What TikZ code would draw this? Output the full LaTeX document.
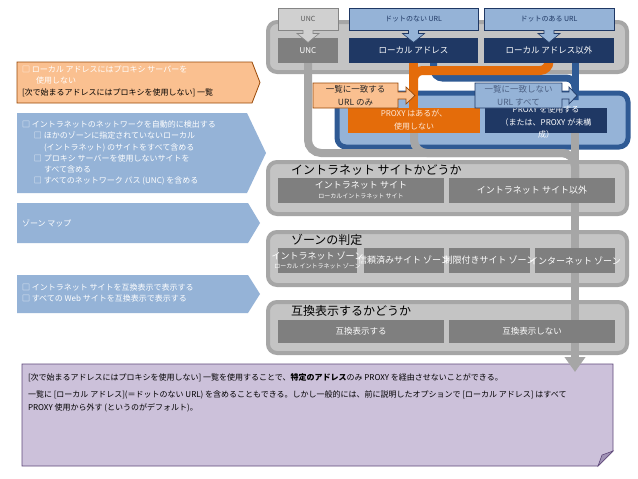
\documentclass[tikz,border=0pt]{standalone}
\usepackage{fontspec}
\setmainfont{Noto Sans CJK JP}
\usetikzlibrary{arrows.meta,calc}
\definecolor{cband}{HTML}{A6A6A6}
\definecolor{cfill}{HTML}{C4C4C4}
\definecolor{cdark}{HTML}{7F7F7F}
\definecolor{cnavy}{HTML}{1F3864}
\definecolor{cbline}{HTML}{2F5A94}
\definecolor{clblue}{HTML}{95B3D7}
\definecolor{corange}{HTML}{E46C0A}
\definecolor{clorange}{HTML}{FAC090}
\definecolor{cbrown}{HTML}{984807}
\definecolor{cpurple}{HTML}{CCC1DA}
\definecolor{cpurpleb}{HTML}{5F497A}
\definecolor{cpurpled}{HTML}{A193B6}
\definecolor{cunc}{HTML}{D0D0D0}
\definecolor{ctxtdark}{HTML}{262626}
\definecolor{corangetxt}{HTML}{FDE9D9}
\newcommand\fsz[2]{\fontsize{#1}{#2}\selectfont}
\pgfdeclarelayer{back}
\pgfdeclarelayer{flows}
\pgfsetlayers{back,flows,main}
\begin{document}
\begin{tikzpicture}[x=1pt,y=-1pt,
  every node/.style={inner sep=0pt, outer sep=0pt},
  container/.style={draw=cband, fill=cfill, line width=4pt, rounded corners=9pt, minimum width=359pt},
  darkbox/.style={fill=cdark},
  navybox/.style={fill=cnavy, text=white, font=\fsz{8.5}{10}},
  topblue/.style={fill=clblue, draw=cnavy, line width=0.6pt, text=cnavy, font=\fsz{7}{8}, minimum height=22pt},
  topgrey/.style={fill=cunc, draw=cband!80!black, line width=0.6pt, text=black!65, font=\fsz{7}{8}, minimum height=22pt},
  wtxt/.style={text=white, align=center},
  title/.style={anchor=west, font=\fsz{12}{14}, text=black},
  greyflow/.style={draw=cband, line width=8pt},
  blueflow/.style={draw=cbline, line width=7pt},
  orangeflow/.style={draw=corange, line width=9pt},
  calloutO/.style={fill=clorange, draw=cbrown, line width=0.7pt},
  calloutB/.style={fill=clblue, draw=cnavy, line width=0.7pt},
  lefttxt/.style={anchor=north west, align=left, text=white, font=\fsz{8}{11.2}}
]
\useasboundingbox (0,0) rectangle (638,479);
\coordinate (vx) at (575,0);

% ---------- background layer ----------
\begin{pgfonlayer}{back}
\fill[white] (0,0) rectangle (638,479);
\node[container, minimum height=50pt] (ctop) at (447.5,47) {};
\node[container, minimum height=52pt] (cint) at (447.5,188) {};
\node[container, minimum height=53pt] (czone) at (447.5,258.5) {};
\node[container, minimum height=51pt] (ccompat) at (447.5,327.5) {};
\draw[fill=cpurple, draw=cpurpleb, line width=0.8pt] (22,364) -- (613,364) -- (613,451) -- (598,466) -- (22,466) -- cycle;
\filldraw[fill=cpurpled, draw=cpurpleb, line width=0.6pt] (613,451) -- (598,466) -- (602,455) -- cycle;
\node[draw=cbline, fill=clblue, line width=5pt, rounded corners=9pt, minimum width=291pt, minimum height=54pt] (cproxy) at (482.5,120) {};
\end{pgfonlayer}

% ---------- boxes ----------
\node[topgrey, minimum width=60pt] (tunc) at (308,19) {UNC};
\node[topblue, minimum width=129pt] (tnodot) at (413.5,19) {ドットのない URL};
\node[topblue, minimum width=130pt] (tdot) at (549,19) {ドットのある URL};

\node[darkbox, minimum width=60pt, minimum height=25pt, text=white, font=\fsz{8}{10}] (unc) at (308,50.5) {UNC};
\node[navybox, minimum width=129pt, minimum height=25pt] (la) at (413.5,50.5) {ローカル アドレス};
\node[navybox, minimum width=130pt, minimum height=25pt] (lax) at (549,50.5) {ローカル アドレス以外};

\node[fill=corange, minimum width=132pt, minimum height=25pt] (pno) at (414,120.5) {};
\node[text=corangetxt, align=center, font=\fsz{8}{12.5}] (pnot) at (414,120) {PROXY はあるが、\\使用しない};
\node[fill=cnavy, minimum width=122pt, minimum height=25pt] (pyes) at (546,120.5) {};
\node[text=white, align=center, font=\fsz{8}{12.5}] (pyest) at (546,122.5) {PROXY を使用する\\（または、PROXY が未構\\成）};

% container 2
\node[darkbox, minimum width=166pt, minimum height=25pt] (isite) at (361,190.5) {};
\node[wtxt, font=\fsz{9}{10}] (isitet) at (361,185) {イントラネット サイト};
\node[wtxt, font=\fsz{6}{7}] (isitet2) at (361,196.5) {ローカルイントラネット サイト};
\node[darkbox, minimum width=166pt, minimum height=25pt] (nsite) at (532,190.5) {};
\node[wtxt, font=\fsz{9}{10}] (nsitet) at (nsite) {イントラネット サイト以外};

% container 3
\node[darkbox, minimum width=79pt, minimum height=25pt] (z1) at (317.5,260.5) {};
\node[wtxt, font=\fsz{9}{10}] (z1t) at (317.5,255.5) {イントラネット ゾーン};
\node[wtxt, font=\fsz{6}{7}] (z1t2) at (317.5,266.5) {ローカル イントラネット ゾーン};
\node[darkbox, minimum width=80pt, minimum height=25pt] (z2) at (404,260.5) {};
\node[wtxt, font=\fsz{9}{10}] (z2t) at (z2) {信頼済みサイト ゾーン};
\node[darkbox, minimum width=81pt, minimum height=25pt] (z3) at (489.5,260.5) {};
\node[wtxt, font=\fsz{9}{10}] (z3t) at (z3) {制限付きサイト ゾーン};
\node[darkbox, minimum width=80pt, minimum height=25pt] (z4) at (575,260.5) {};
\node[wtxt, font=\fsz{9}{10}] (z4t) at (z4) {インターネット ゾーン};

% container 4
\node[darkbox, minimum width=166pt, minimum height=23pt] (cy) at (361,331.5) {};
\node[wtxt, font=\fsz{8.5}{10}] (cyt) at (cy) {互換表示する};
\node[darkbox, minimum width=166pt, minimum height=23pt] (cn) at (532,331.5) {};
\node[wtxt, font=\fsz{8.5}{10}] (cnt) at (cn) {互換表示しない};

% titles
\node[title] (t2) at (291,170) {イントラネット サイトかどうか};
\node[title] (t3) at (291,239.5) {ゾーンの判定};
\node[title] (t4) at (291,311) {互換表示するかどうか};

% ---------- flows ----------
\begin{pgfonlayer}{flows}
\draw[blueflow, rounded corners=9pt] ($(la.south)+(20,-2)$) |- ($(vx)+(0,78)$) -- ($(vx)+(0,100)$);
\draw[blueflow] ($(lax.south -| vx)+(0,-2)$) -- (vx |- cproxy.north);
\draw[orangeflow] ($(la.south)+(0,-2)$) -- ($(la.south |- pno.north)+(0,2)$);
\draw[orangeflow, rounded corners=9pt] ($(lax.south)+(0,-2)$) |- ($(la.south)+(0,7.5)$) -- ($(la.south)+(0,30)$);
\draw[greyflow, rounded corners=13pt] ($(unc.south)+(0,-2)$) |- ($(vx)+(0,153)$) -- ($(vx)+(0,185)$);
\draw[greyflow, rounded corners=13pt] ($(pno.south)+(0,-2)$) |- ($(vx)+(0,153)$) -- ($(vx)+(0,185)$);
\draw[greyflow, -{Triangle[width=20pt,length=15pt]}] ($(pyes.south -| vx)+(0,-2)$) -- ($(vx)+(0,372)$);
\end{pgfonlayer}

% ---------- small down arrows ----------
\foreach \n/\f/\d in {tunc/cunc/cband!80!black, tnodot/clblue/cnavy, tdot/clblue/cnavy}{
  \fill[\f] ($(\n.south)+(-5,-1)$) -- ++(10,0) -- ++(0,4.5) -- ++(6,0) -- ++(-11,9) -- ++(-11,-9) -- ++(6,0) -- cycle;
  \draw[\d, line width=0.6pt, line join=miter] ($(\n.south)+(5,0)$) -- ++(0,3.5) -- ++(6,0) -- ++(-11,9) -- ++(-11,-9) -- ++(6,0) -- ++(0,-3.5);
}

% ---------- callouts ----------
\draw[calloutO] (313,83) -- (398,83) -- (398,92) -- (406,92) -- (406,87) -- (415,95.5) -- (406,104) -- (406,99) -- (398,99) -- (398,108) -- (313,108) -- cycle;
\node[align=center, font=\fsz{8.5}{12.5}, text=ctxtdark] (co1) at (355.5,95.5) {一覧に一致する\\URL のみ};
\draw[calloutB] (475,83) -- (562,83) -- (562,92) -- (569,92) -- (569,87) -- (577,95.5) -- (569,104) -- (569,99) -- (562,99) -- (562,108) -- (475,108) -- cycle;
\node[align=center, font=\fsz{8.5}{12.5}, text=cnavy!80] (co2) at (518.5,95.5) {一覧に一致しない\\URL すべて};

% ---------- left column ----------
\filldraw[fill=clorange, draw=cbrown, line width=0.8pt] (17,62) -- (252,62) -- (260,82.5) -- (252,103) -- (17,103) -- cycle;
\node[lefttxt] (l0) at (22,66) {□ ローカル アドレスにはプロキシ サーバーを\\\hspace*{14pt}使用しない\\\textcolor{black}{[次で始まるアドレスにはプロキシを使用しない] 一覧}};
\fill[clblue] (17,113) -- (247,113) -- (266,153) -- (247,193) -- (17,193) -- cycle;
\node[lefttxt] (l1) at (22,121) {□ イントラネットのネットワークを自動的に検出する\\
\hspace*{12pt}□ ほかのゾーンに指定されていないローカル\\
\hspace*{22pt}(イントラネット) のサイトをすべて含める\\
\hspace*{12pt}□ プロキシ サーバーを使用しないサイトを\\
\hspace*{22pt}すべて含める\\
\hspace*{12pt}□ すべてのネットワーク パス (UNC) を含める};
\fill[clblue] (17,203) -- (248,203) -- (260,223) -- (248,243) -- (17,243) -- cycle;
\node[anchor=west, text=white, font=\fsz{8}{10}] (l2) at (22,223) {ゾーン マップ};
\fill[clblue] (17,275) -- (248,275) -- (260,294) -- (248,313) -- (17,313) -- cycle;
\node[lefttxt] (l3) at (22,284) {□ イントラネット サイトを互換表示で表示する\\□ すべての Web サイトを互換表示で表示する};

% ---------- note text ----------
\node[anchor=west, font=\fsz{8}{12}] (n1) at (28,378) {[次で始まるアドレスにはプロキシを使用しない] 一覧を使用することで、\textbf{特定のアドレス}のみ PROXY を経由させないことができる。};
\node[anchor=north west, align=left, font=\fsz{8}{12.5}] (n2) at (28,391) {一覧に [ローカル アドレス](＝ドットのない URL) を含めることもできる。しかし一般的には、前に説明したオプションで [ローカル アドレス] はすべて\\PROXY 使用から外す (というのがデフォルト)。};
\end{tikzpicture}
\end{document}
